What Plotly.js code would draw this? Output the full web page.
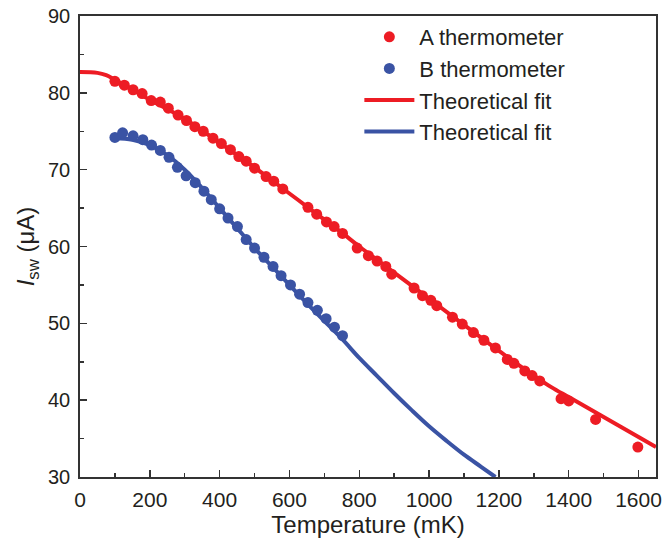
<!DOCTYPE html>
<html>
<head>
<meta charset="utf-8">
<script src="https://cdn.plot.ly/plotly-3.0.1.min.js"></script>
<style>html,body{margin:0;padding:0;background:#fff;}#chart{width:672px;height:548px;}</style>
</head>
<body>
<div id="chart"></div>
<script>
// Measured points, thermometer A
const tempA = [100, 127, 152, 178, 204, 230, 253, 281, 305, 329, 353, 381, 405, 431, 455, 476, 500, 533, 555, 581, 653, 678, 706, 728, 752, 794, 826, 851, 876, 893, 957, 981, 1005, 1022, 1067, 1095, 1127, 1157, 1190, 1224, 1243, 1274, 1295, 1317, 1378, 1400, 1477, 1598];
const iswA = [81.5, 81.0, 80.4, 79.9, 79.0, 78.8, 78.0, 77.1, 76.4, 75.6, 75.0, 74.1, 73.4, 72.6, 71.7, 71.1, 70.2, 69.1, 68.5, 67.5, 65.1, 64.2, 63.2, 62.6, 61.7, 59.8, 58.8, 58.1, 57.4, 56.4, 54.6, 53.6, 53.0, 52.3, 50.8, 49.9, 48.8, 47.8, 46.8, 45.3, 44.8, 43.8, 43.2, 42.5, 40.2, 39.9, 37.5, 33.9];

// Measured points, thermometer B
const tempB = [100, 122, 152, 180, 205, 230, 255, 279, 304, 330, 355, 376, 400, 424, 451, 476, 500, 527, 553, 576, 603, 629, 653, 680, 705, 729, 752];
const iswB = [74.2, 74.8, 74.4, 73.9, 73.2, 72.5, 71.6, 70.3, 69.2, 68.3, 67.2, 66.1, 64.9, 63.7, 62.6, 60.9, 59.8, 58.6, 57.4, 56.2, 55.0, 53.8, 52.7, 51.7, 50.6, 49.5, 48.4];

// Theoretical fit curves
const fitTempA = [0, 50, 75, 100, 150, 200, 250, 300, 350, 400, 450, 500, 550, 600, 650, 700, 750, 800, 850, 900, 950, 1000, 1050, 1100, 1150, 1200, 1250, 1300, 1350, 1400, 1450, 1500, 1550, 1600, 1650];
const fitIswA = [82.7, 82.6, 82.3, 81.7, 80.4, 79.1, 77.9, 76.6, 75.1, 73.5, 71.9, 70.3, 68.6, 66.9, 65.2, 63.5, 61.8, 60.0, 58.3, 56.6, 54.9, 53.2, 51.5, 49.8, 48.1, 46.4, 44.8, 43.2, 41.7, 40.4, 39.1, 37.8, 36.5, 35.2, 33.9];

const fitTempB = [100, 150, 200, 250, 300, 350, 400, 450, 500, 550, 600, 650, 700, 750, 800, 850, 900, 950, 1000, 1050, 1100, 1150, 1190];
const fitIswB = [74.1, 73.9, 73.2, 71.9, 70.0, 67.6, 65.0, 62.4, 59.8, 57.4, 55.0, 52.6, 50.3, 48.0, 45.5, 43.2, 40.9, 38.7, 36.6, 34.7, 32.9, 31.3, 30.0];

const legendNames = ['A thermometer', 'B thermometer', 'Theoretical fit', 'Theoretical fit'];
const xTickVals = [0, 200, 400, 600, 800, 1000, 1200, 1400, 1600];
const yTickVals = [30, 40, 50, 60, 70, 80, 90];

const RED = '#ED1C24';
const BLUE = '#3A53A4';
const INK = '#231f20';
const AXIS = '#333333';
const FONT = 'Liberation Sans, Arial, Helvetica, sans-serif';

const traces = [
  {x: fitTempA, y: fitIswA, mode: 'lines', name: legendNames[2], legendrank: 3,
   line: {color: RED, width: 4, shape: 'spline'}},
  {x: fitTempB, y: fitIswB, mode: 'lines', name: legendNames[3], legendrank: 4,
   line: {color: BLUE, width: 4, shape: 'spline'}},
  {x: tempA, y: iswA, mode: 'markers', name: legendNames[0], legendrank: 1,
   marker: {color: RED, size: 11}},
  {x: tempB, y: iswB, mode: 'markers', name: legendNames[1], legendrank: 2,
   marker: {color: BLUE, size: 11}}
];

const axisCommon = {
  showline: true, mirror: true, linecolor: AXIS, linewidth: 1.8,
  showgrid: false, zeroline: false,
  ticks: 'inside', ticklen: 7, tickwidth: 1.5, tickcolor: AXIS,
  tickfont: {family: FONT, size: 21, color: INK}
};

const layout = {
  width: 672, height: 548,
  margin: {l: 80, r: 16, t: 16, b: 71},
  paper_bgcolor: '#ffffff', plot_bgcolor: '#ffffff',
  showlegend: true,
  legend: {x: 0.485, y: 1.0, xanchor: 'left', yanchor: 'top',
           bgcolor: 'rgba(0,0,0,0)', borderwidth: 0,
           font: {family: FONT, size: 22, color: INK},
           itemwidth: 50, tracegroupgap: 0},
  xaxis: Object.assign({}, axisCommon, {
    range: [0, 1650], tickvals: xTickVals, ticktext: xTickVals.map(String),
    minor: {dtick: 100, ticks: 'inside', ticklen: 4, tickwidth: 1.5, tickcolor: AXIS},
    ticklabelstandoff: 3,
    title: {text: 'Temperature (mK)', font: {family: FONT, size: 24, color: INK}, standoff: 0}
  }),
  yaxis: Object.assign({}, axisCommon, {
    range: [30, 90], tickvals: yTickVals, ticktext: yTickVals.map(String),
    tickfont: {family: FONT, size: 20, color: INK},
    minor: {dtick: 5, ticks: 'inside', ticklen: 4, tickwidth: 1.5, tickcolor: AXIS},
    ticklabelstandoff: 4,
    title: {text: '<i>I</i><sub>sw</sub> (μA)', font: {family: FONT, size: 24, color: INK}, standoff: 6}
  })
};

Plotly.newPlot('chart', traces, layout, {displayModeBar: false, staticPlot: true});
</script>
</body>
</html>
